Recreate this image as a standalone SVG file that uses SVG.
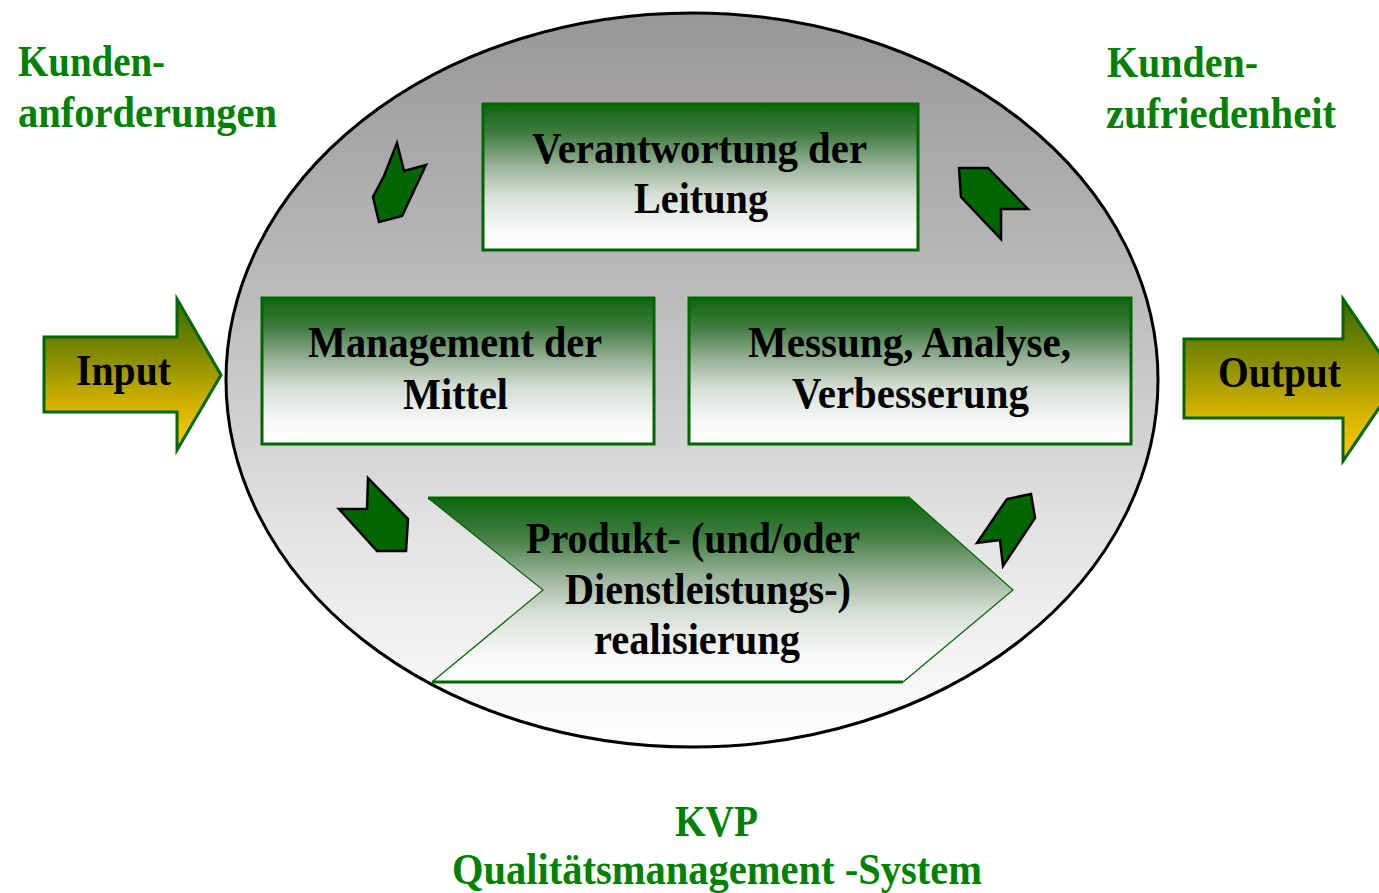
<svg xmlns="http://www.w3.org/2000/svg" width="1379" height="893" viewBox="0 0 1379 893">
  <defs>
    <linearGradient id="ovalFill" x1="0" y1="0" x2="0" y2="1">
      <stop offset="0" stop-color="#979797"/>
      <stop offset="0.4" stop-color="#bdbdbd"/>
      <stop offset="0.7" stop-color="#e2e2e2"/>
      <stop offset="1" stop-color="#ffffff"/>
    </linearGradient>
    <linearGradient id="boxFill" x1="0" y1="0" x2="0" y2="1">
      <stop offset="0" stop-color="#0d670d"/>
      <stop offset="0.2" stop-color="#3f7c3f"/>
      <stop offset="0.42" stop-color="#97b197"/>
      <stop offset="0.62" stop-color="#d5dfd5"/>
      <stop offset="0.85" stop-color="#f7f8f7"/>
      <stop offset="1" stop-color="#ffffff"/>
    </linearGradient>
    <linearGradient id="ioFill" x1="0" y1="0" x2="0" y2="1">
      <stop offset="0" stop-color="#3a6c00"/>
      <stop offset="0.35" stop-color="#7f8900"/>
      <stop offset="0.7" stop-color="#d4b200"/>
      <stop offset="1" stop-color="#ffcc00"/>
    </linearGradient>
    <style>
      .box { fill: url(#boxFill); stroke: #006600; stroke-width: 3; }
      .io { fill: url(#ioFill); stroke: #006600; stroke-width: 3; stroke-linejoin: miter; }
      .turn { fill: #006600; stroke: #000000; stroke-width: 2.5; stroke-linejoin: miter; }
      .lbl { font-family: "Liberation Serif", "Times New Roman", serif; font-weight: bold; fill: #000000; font-size: 45px; text-anchor: start; }
      .green { font-family: "Liberation Serif", "Times New Roman", serif; font-weight: bold; fill: #008000; font-size: 45px; }
    </style>
  </defs>

  <rect width="1379" height="893" fill="#ffffff"/>

  <!-- process oval -->
  <g id="oval">
    <ellipse cx="692" cy="380" rx="466" ry="367" fill="url(#ovalFill)" stroke="#000000" stroke-width="3"/>
  </g>

  <!-- corner labels -->
  <g id="label-anforderungen">
    <text class="green" x="18" y="76" textLength="147" lengthAdjust="spacingAndGlyphs">Kunden-</text>
    <text class="green" x="18" y="127" textLength="259" lengthAdjust="spacingAndGlyphs">anforderungen</text>
  </g>
  <g id="label-zufriedenheit">
    <text class="green" x="1107" y="77" textLength="151" lengthAdjust="spacingAndGlyphs">Kunden-</text>
    <text class="green" x="1106" y="128" textLength="230" lengthAdjust="spacingAndGlyphs">zufriedenheit</text>
  </g>
  <g id="label-kvp">
    <text class="green" x="675" y="836" textLength="83" lengthAdjust="spacingAndGlyphs">KVP</text>
    <text class="green" x="452" y="884" textLength="530" lengthAdjust="spacingAndGlyphs">Qualitätsmanagement -System</text>
  </g>

  <!-- process boxes -->
  <g id="node-leitung">
    <rect class="box" x="483" y="104" width="435" height="146"/>
    <text class="lbl" x="532" y="163" textLength="335" lengthAdjust="spacingAndGlyphs">Verantwortung der</text>
    <text class="lbl" x="634" y="213" textLength="134" lengthAdjust="spacingAndGlyphs">Leitung</text>
  </g>
  <g id="node-mittel">
    <rect class="box" x="262" y="298" width="392" height="146"/>
    <text class="lbl" x="308" y="357" textLength="294" lengthAdjust="spacingAndGlyphs">Management der</text>
    <text class="lbl" x="403" y="409" textLength="105" lengthAdjust="spacingAndGlyphs">Mittel</text>
  </g>
  <g id="node-messung">
    <rect class="box" x="689" y="298" width="442" height="146"/>
    <text class="lbl" x="748" y="357" textLength="323" lengthAdjust="spacingAndGlyphs">Messung, Analyse,</text>
    <text class="lbl" x="792" y="408" textLength="237" lengthAdjust="spacingAndGlyphs">Verbesserung</text>
  </g>
  <g id="node-realisierung">
    <polygon points="428,498 910,498 1013,590 903,682 432,682 543,590" fill="url(#boxFill)" stroke="none"/>
    <polyline points="910,498 1013,590 903,682" fill="none" stroke="#006600" stroke-width="1.2"/>
    <polyline points="428,498 543,590 432,682" fill="none" stroke="#006600" stroke-width="1.2"/>
    <line x1="428" y1="498" x2="910" y2="498" stroke="#006600" stroke-width="3"/>
    <line x1="432" y1="682" x2="903" y2="682" stroke="#006600" stroke-width="3"/>
    <text class="lbl" x="526" y="553" textLength="334" lengthAdjust="spacingAndGlyphs">Produkt- (und/oder</text>
    <text class="lbl" x="565" y="604" textLength="286" lengthAdjust="spacingAndGlyphs">Dienstleistungs-)</text>
    <text class="lbl" x="594" y="654" textLength="206" lengthAdjust="spacingAndGlyphs">realisierung</text>
  </g>

  <!-- input / output arrows -->
  <g id="node-input">
    <polygon class="io" points="44,337 177,337 177,299 221,375 177,450 177,412 44,412"/>
    <text class="lbl" x="76" y="385" textLength="95" lengthAdjust="spacingAndGlyphs">Input</text>
  </g>
  <g id="node-output">
    <polygon class="io" points="1184,339 1343,339 1343,299 1398,380 1343,461 1343,418 1184,418"/>
    <text class="lbl" x="1218" y="387" textLength="123" lengthAdjust="spacingAndGlyphs">Output</text>
  </g>

  <!-- cycle arrows between the boxes -->
  <g id="connectors">
    <polygon class="turn" points="397,143 404,171 426,165 402,216 379,222 373,197 384,176"/>
    <polygon class="turn" points="368,478 408,519 406,551 377,551 339,509 367,509"/>
    <polygon class="turn" points="1031,494 1035,518 1003,566 1000,540 977,543 1007,499"/>
    <polygon class="turn" points="959,168 988,168 1028,209 1001,209 1001,239 961,197"/>
  </g>
</svg>
